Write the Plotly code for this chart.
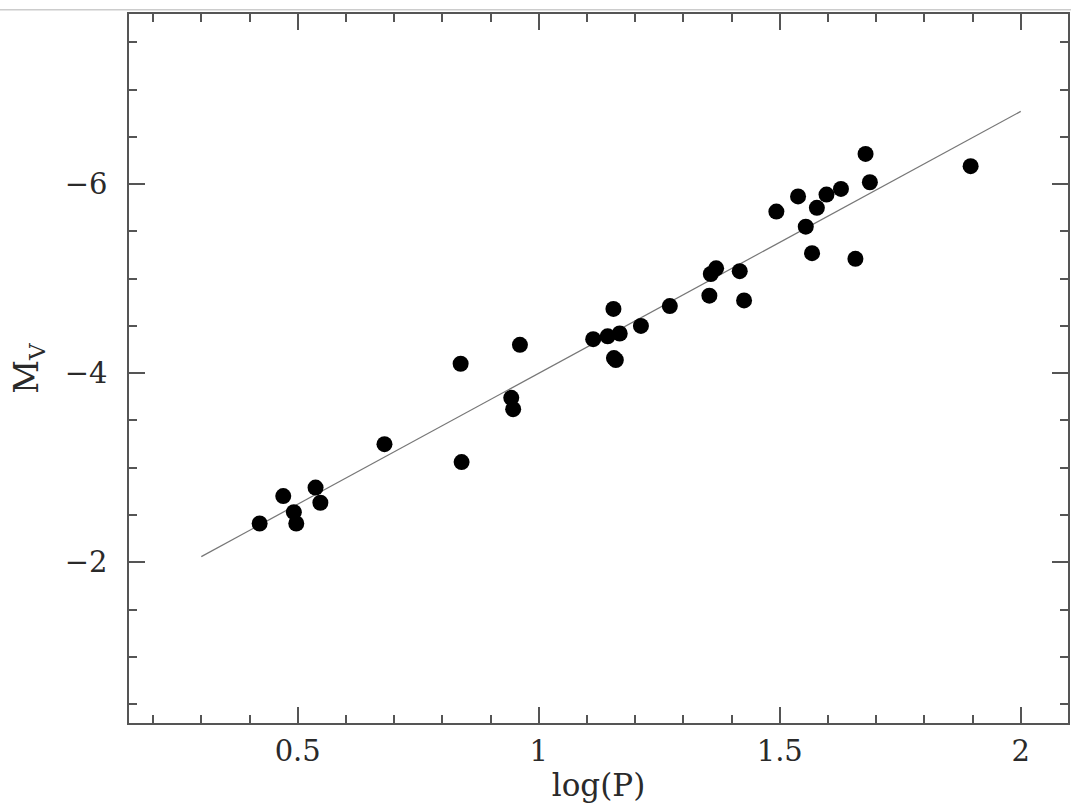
import plotly.graph_objects as go

# Data
log_p = [0.421, 0.470, 0.492, 0.497, 0.537, 0.547, 0.680, 0.838, 0.840, 0.943,
         0.947, 0.961, 1.113, 1.143, 1.155, 1.156, 1.160, 1.168, 1.212, 1.272,
         1.354, 1.357, 1.368, 1.417, 1.426, 1.493, 1.538, 1.554, 1.567, 1.577,
         1.597, 1.627, 1.657, 1.678, 1.687, 1.896]
m_v = [-2.41, -2.70, -2.53, -2.41, -2.79, -2.63, -3.25, -4.10, -3.06, -3.74,
       -3.62, -4.30, -4.36, -4.39, -4.68, -4.16, -4.14, -4.42, -4.50, -4.71,
       -4.82, -5.05, -5.11, -5.08, -4.77, -5.71, -5.87, -5.55, -5.27, -5.75,
       -5.89, -5.95, -5.21, -6.32, -6.02, -6.19]

fit_x = [0.3, 2.0]
fit_y = [-2.06, -6.77]

x_tickvals = [0.5, 1, 1.5, 2]
x_ticktext = ["0.5", "1", "1.5", "2"]
y_tickvals = [-6, -4, -2]
y_ticktext = ["\u22126", "\u22124", "\u22122"]

font_family = "DejaVu Serif, Liberation Serif, serif"
text_color = "#2a2a2a"

fig = go.Figure()
fig.add_trace(go.Scatter(x=fit_x, y=fit_y, mode="lines",
                         line=dict(color="#777777", width=1.2),
                         showlegend=False, hoverinfo="skip"))
fig.add_trace(go.Scatter(x=log_p, y=m_v, mode="markers",
                         marker=dict(color="black", size=16),
                         showlegend=False))

axis_common = dict(
    showgrid=False, zeroline=False, showline=True,
    linecolor="#555555", linewidth=1.5, mirror="ticks",
    ticks="inside", ticklen=16, tickwidth=1.5, tickcolor="#555555",
    tickfont=dict(family=font_family, size=29, color=text_color),
)

fig.update_xaxes(range=[0.15, 2.098], tickvals=x_tickvals, ticktext=x_ticktext,
                 ticklabelstandoff=1,
                 minor=dict(dtick=0.1, ticks="inside", ticklen=8, tickwidth=1.5,
                            tickcolor="#555555", tick0=0),
                 title=dict(text="log(P)", font=dict(family=font_family, size=31, color=text_color),
                            standoff=8),
                 **axis_common)
fig.update_yaxes(range=[-0.3, -7.8], tickvals=y_tickvals, ticktext=y_ticktext,
                 ticklabelstandoff=14,
                 minor=dict(dtick=0.5, ticks="inside", ticklen=8, tickwidth=1.5,
                            tickcolor="#555555", tick0=0),
                 title=dict(text="M<sub>V</sub>", font=dict(family=font_family, size=33, color=text_color),
                            standoff=16),
                 **axis_common)

fig.add_shape(type="line", xref="paper", yref="paper", x0=-0.2, x1=1.01, y0=1.006, y1=1.006,
              line=dict(color="#cccccc", width=1.5))

fig.update_layout(width=1071, height=809,
                  margin=dict(l=129, r=1, t=14, b=86),
                  paper_bgcolor="white", plot_bgcolor="white")

fig.write_html("out.html", config={"displayModeBar": False},
               post_script="document.body.style.margin='0';document.body.style.overflow='hidden';")
